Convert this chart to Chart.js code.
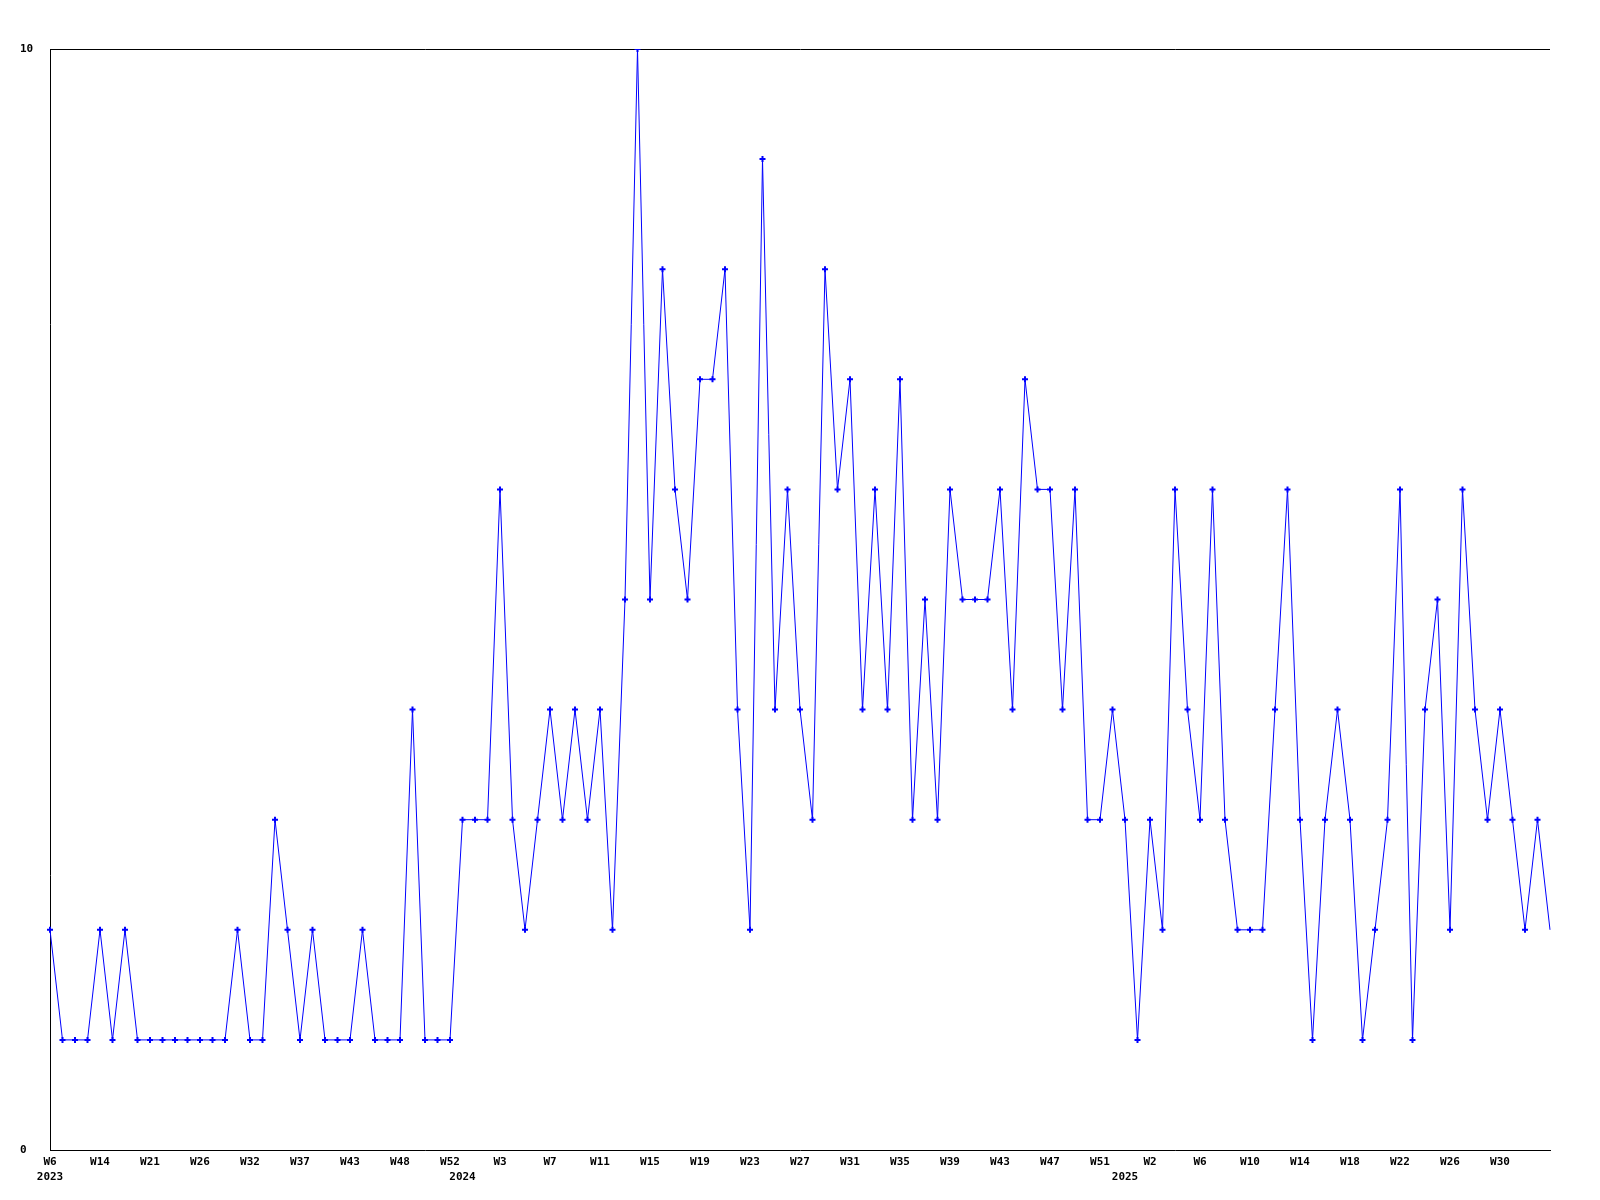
<!DOCTYPE html>
<html>
<head>
<meta charset="utf-8">
<script src="https://cdn.jsdelivr.net/npm/chart.js@4/dist/chart.umd.min.js"></script>
<style>
    body { margin: 0; background: #fff; }
</style>
</head>
<body>
<canvas id="weeklyChart" width="1600" height="1200"></canvas>
<script>
// one value per week, 121 points
var weeklyCounts = [
    2, 1, 1, 1, 2, 1, 2, 1, 1, 1,
    1, 1, 1, 1, 1, 2, 1, 1, 3, 2,
    1, 2, 1, 1, 1, 2, 1, 1, 1, 4,
    1, 1, 1, 3, 3, 3, 6, 3, 2, 3,
    4, 3, 4, 3, 4, 2, 5, 10, 5, 8,
    6, 5, 7, 7, 8, 4, 2, 9, 4, 6,
    4, 3, 8, 6, 7, 4, 6, 4, 7, 3,
    5, 3, 6, 5, 5, 5, 6, 4, 7, 6,
    6, 4, 6, 3, 3, 4, 3, 1, 3, 2,
    6, 4, 3, 6, 3, 2, 2, 2, 4, 6,
    3, 1, 3, 4, 3, 1, 2, 3, 6, 1,
    4, 5, 2, 6, 4, 3, 4, 3, 2, 3, 2
];

// label shown on every 4th point
var weekTicks = [
    'W6', 'W14', 'W21', 'W26', 'W32', 'W37', 'W43', 'W48', 'W52',
    'W3', 'W7', 'W11', 'W15', 'W19', 'W23', 'W27', 'W31', 'W35', 'W39', 'W43', 'W47', 'W51',
    'W2', 'W6', 'W10', 'W14', 'W18', 'W22', 'W26', 'W30'
];
var yearLabels = ['2023', '2024', '2025'];
var yearPoints = [0, 33, 86];   // point where each year starts

var yMax = 10;

Chart.defaults.font.family = "'DejaVu Sans Mono', monospace";
Chart.defaults.font.size = 11;
Chart.defaults.font.weight = 'bold';
Chart.defaults.color = '#000';

var ctx = document.getElementById('weeklyChart').getContext('2d');
var weeklyChart = new Chart(ctx, {
    type: 'line',
    data: {
        labels: weeklyCounts.map(function(v, i) { return i; }),
        datasets: [{
            data: weeklyCounts,
            borderColor: '#0000ff',
            borderWidth: 1,
            tension: 0,
            fill: false,
            pointStyle: 'cross',
            pointRadius: function(c) {
                return c.dataIndex === weeklyCounts.length - 1 ? 0 : 3;
            },
            pointBorderWidth: 2,
            pointBorderColor: '#0000ff',
            pointBackgroundColor: '#0000ff'
        }]
    },
    options: {
        responsive: false,
        animation: false,
        layout: {
            padding: { left: 20, top: 49, right: 50, bottom: 0 }
        },
        scales: {
            x: {
                grid: {
                    display: false
                },
                border: {
                    display: true,
                    color: '#000',
                    width: 1
                },
                afterFit: function(scale) {
                    scale.height = 50;
                },
                ticks: {
                    autoSkip: false,
                    maxRotation: 0,
                    minRotation: 0,
                    padding: -3,
                    font: { lineHeight: 1.35 },
                    callback: function(value, index) {
                        var lines = [];
                        if (index % 4 === 0 && weekTicks[index / 4]) lines.push(weekTicks[index / 4]);
                        var y = yearPoints.indexOf(index);
                        if (y >= 0) {
                            if (!lines.length) lines.push('');
                            lines.push(yearLabels[y]);
                        }
                        return lines.length ? lines : '';
                    }
                }
            },
            y: {
                min: 0,
                max: yMax,
                afterFit: function(scale) {
                    scale.width = 30;
                },
                border: {
                    display: true,
                    color: '#000',
                    width: 1
                },
                grid: {
                    drawTicks: false,
                    color: function(c) {
                        return c.tick.value === yMax ? '#000' : 'rgba(0,0,0,0)';
                    }
                },
                ticks: {
                    stepSize: yMax,
                    crossAlign: 'far',
                    padding: 0
                }
            }
        },
        plugins: {
            legend: {
                display: false
            },
            tooltip: {
                enabled: false
            }
        }
    }
});
</script>
</body>
</html>
